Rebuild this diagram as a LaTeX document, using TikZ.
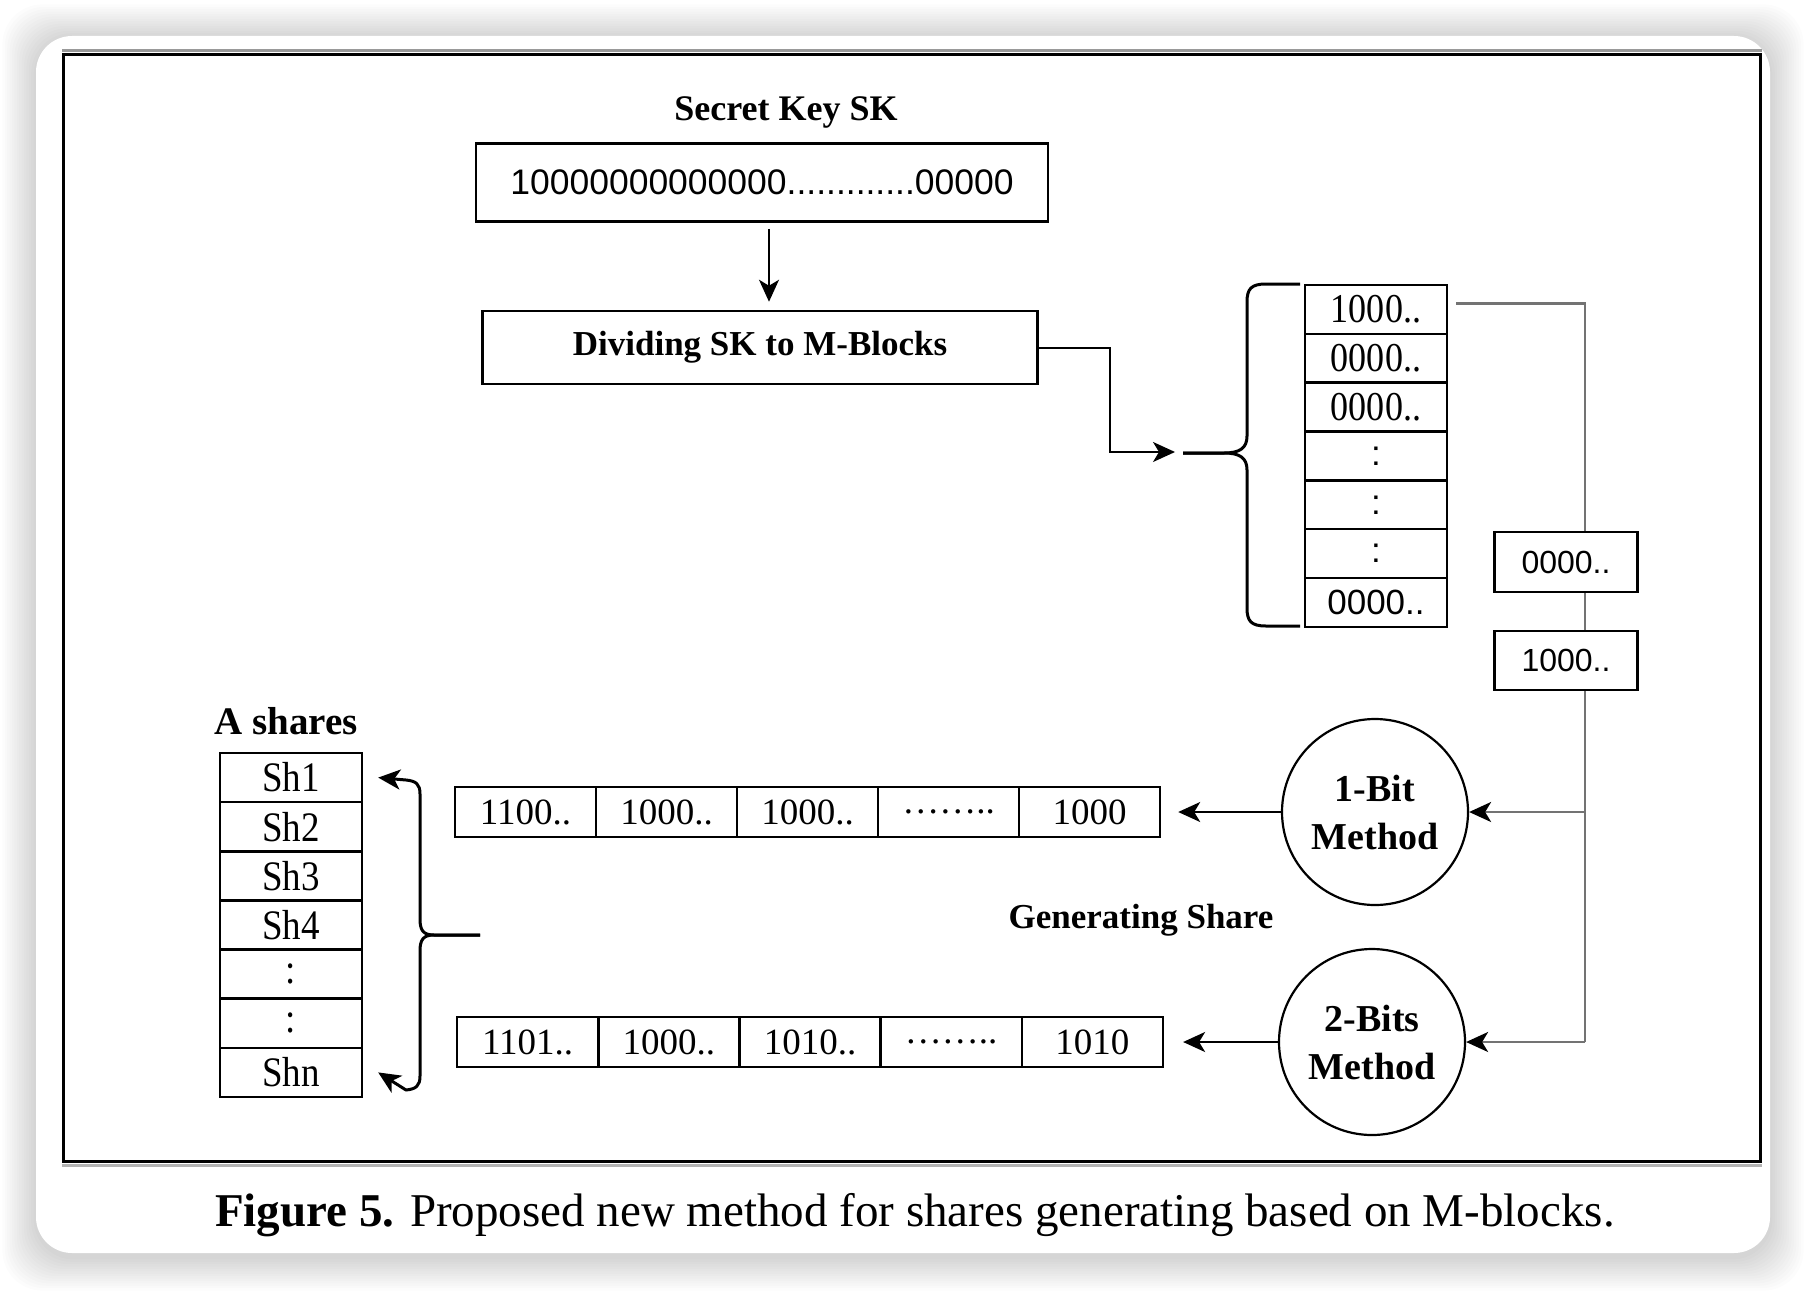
\documentclass[tikz,border=0pt]{standalone}
\usepackage{fontspec}
\setmainfont{Liberation Serif}
\setsansfont{Liberation Sans}
\newfontfamily\tserif[FakeStretch=0.88]{Liberation Serif}
\usetikzlibrary{arrows.meta,calc}
\newcommand\fsz[1]{\fontsize{#1}{#1}\selectfont}

\begin{document}
\begin{tikzpicture}[x=1pt,y=-1pt,
  box/.style={draw, line width=2.4pt, inner sep=0pt, fill=white},
  cell/.style={box, minimum width=142pt, minimum height=49pt},
  scell/.style={box, minimum width=141pt, minimum height=50pt, font=\fsz{37}},
  arrowtip/.style={-{Stealth[length=22pt,width=20pt,inset=6pt]}},
  arr/.style={line width=2pt, arrowtip},
  garr/.style={line width=2.4pt, draw=black!55, -{Stealth[length=22pt,width=20pt,inset=6pt,color=black]}},
  gline/.style={line width=2.4pt, draw=black!55},
  bracestyle/.style={line width=3pt, line join=round},
  method/.style={circle, draw, line width=2.2pt, minimum size=186pt, inner sep=0pt, align=center, font=\bfseries\fontsize{38}{48}\selectfont},
  btitle/.style={font=\bfseries\fsz{36}}
]
\useasboundingbox (0,0) rectangle (1806,1290);
% background and card shadow
\fill[white] (0,0) rectangle (1806,1290);
\foreach \i in {1,...,14}{
  \fill[black, fill opacity=0.013, rounded corners=40pt] (36-2.4*\i, 38-2.4*\i) rectangle (1770+2.4*\i, 1257+2.4*\i);
}
\fill[white, rounded corners=36pt] (36,36) rectangle (1770,1253);
% frame
\draw[black!40, line width=2.5pt] (62,50.5) -- (1762,50.5);
\draw[black!30, line width=3pt] (62,1165.5) -- (1762,1165.5);
\draw[line width=3.5pt] (63.5,54.5) rectangle (1760.5,1161.5);

% top part
\node[btitle] (title) at (786,112) {Secret Key SK};
\node[box, line width=2.5pt, minimum width=572pt, minimum height=78pt, font=\sffamily\fsz{35.5}] (sk) at (762,182.5) {10000000000000.............00000};
\node[box, line width=2.5pt, minimum width=555pt, minimum height=73pt, font=\bfseries\fsz{35}] (div) at (760,347.5) {Dividing SK to M-Blocks};
\draw[arr] ([xshift=7pt,yshift=-6pt]sk.south) -- ([xshift=9pt,yshift=8pt]div.north);

% blocks column
\node[cell, font=\tserif\fsz{41}] (b1) at (1376,309.4) {1000..};
\node[cell, font=\tserif\fsz{41}] (b2) at (1376,358.3) {0000..};
\node[cell, font=\tserif\fsz{41}] (b3) at (1376,407.1) {0000..};
\node[cell, font=\sffamily\fsz{35}] (b4) at (1376,456.0) {:};
\node[cell, font=\sffamily\fsz{35}] (b5) at (1376,504.9) {:};
\node[cell, font=\sffamily\fsz{35}] (b6) at (1376,553.7) {:};
\node[cell, font=\sffamily\fsz{35}] (b7) at (1376,602.6) {0000..};

% connector into blocks
\coordinate (bin) at (1175,452);
\coordinate (k1) at (1110,0);
\draw[arr] (div.east) -| (k1 |- bin) -- (bin);
% right brace
\draw[bracestyle] (1300,284) -- (1266,284) .. controls (1251,284) and (1247,289) .. (1247,302) -- (1247,436) .. controls (1247,448) and (1240,453) .. (1224,453) -- (1183,453);
\draw[bracestyle] (1183,453) -- (1224,453) .. controls (1240,453) and (1247,458) .. (1247,470) -- (1247,608) .. controls (1247,621) and (1251,626) .. (1266,626) -- (1300,626);

% methods
\node[method] (m1) at (1375,812) {1-Bit\\Method};
\node[method] (m2) at (1372,1042) {2-Bits\\Method};
\node[font=\bfseries\fsz{35}] (gen) at (1141,920) {Generating Share};

% right gray connectors
\coordinate (jr) at (1585,812);
\coordinate (jb) at (1585,1042);
\draw[gline] ([xshift=8pt,yshift=6pt]b1.east) -| (jb);
\draw[garr] (jr) -- (m1.east);
\draw[garr] (jb) -- (m2.east);
\node[box, minimum width=143pt, minimum height=60pt, font=\sffamily\fsz{32}] (r1) at (1566,562) {0000..};
\node[box, minimum width=143pt, minimum height=59pt, font=\sffamily\fsz{32}] (r2) at (1566,660.5) {1000..};

% sequences
\foreach \t [count=\i] in {1100..,1000..,1000..,……..,1000}{
  \node[scell] (s1\i) at ({455+141*\i-70.5},812) {\t};
}
\foreach \t [count=\i] in {1101..,1000..,1010..,……..,1010}{
  \node[scell] (s2\i) at ({457+141.2*\i-70.6},1042) {\t};
}
\draw[arr] (m1.west) -- ([xshift=17pt]s15.east);
\draw[arr] (m2.west) -- ([xshift=19pt]s25.east);

% shares
\node[font=\bfseries\fsz{39}] (ash) at (286,721) {A shares};
\foreach \t [count=\i] in {Sh1,Sh2,Sh3,Sh4,:,:,Shn}{
  \node[cell, font=\tserif\fsz{42}] (sh\i) at (291,{753+49.14*\i-24.57}) {\t};
}
\coordinate (st) at (480,935);
\draw[bracestyle, arrowtip] (st) -- (434,935) .. controls (423,935) and (420,930) .. (420,919) -- (420,794) .. controls (420,784) and (416,781) .. (406,780) -- ([xshift=15pt]sh1.east);
\draw[bracestyle, arrowtip] (st) -- (434,935) .. controls (423,935) and (420,940) .. (420,951) -- (420,1076) .. controls (420,1086) and (416,1089) .. (406,1090) -- ([xshift=15pt]sh7.east);

% caption
\node[font=\fsz{47}] (cap) at (915,1215) {\textbf{Figure 5.} Proposed new method for shares generating based on M-blocks.};
\end{tikzpicture}
\end{document}
